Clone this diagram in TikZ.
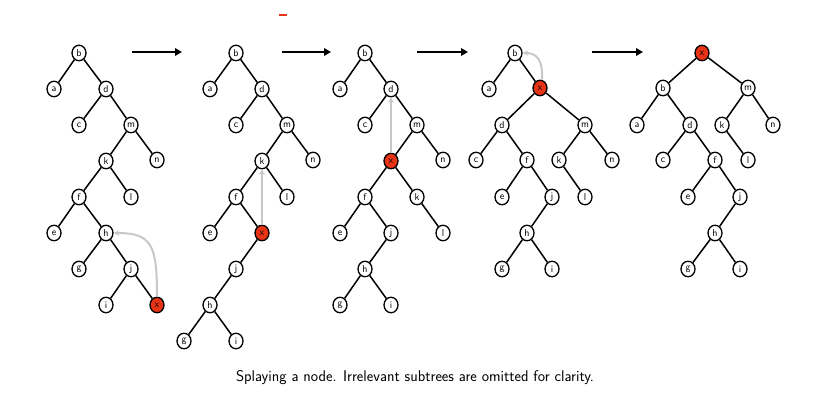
\documentclass[tikz,border=0pt]{standalone}
\usetikzlibrary{arrows.meta,shapes.geometric}
\definecolor{hot}{RGB}{232,52,22}
\definecolor{hint}{RGB}{200,200,200}
\begin{document}
\begin{tikzpicture}[x=1pt,y=-1pt,
  nd/.style={draw,line width=1.3pt,ellipse,fill=white,minimum width=14pt,minimum height=15.5pt,inner sep=0pt,font=\sffamily\fontsize{10}{11}\selectfont},
  hotnd/.style={nd,fill=hot},
  edge/.style={line width=1.5pt},
  hintarrow/.style={draw=hint,line width=2pt,-{Stealth[length=5.5pt,width=5.5pt]}},
  steparrow/.style={line width=2.8pt,-{Triangle[length=7pt,width=7.5pt]}}]
\useasboundingbox (0,0) rectangle (824,406);
% stray red mark
\fill[hot] (279,14) rectangle (287,16.5);
% ---------- tree 1
\node[nd] (t1b) at (79,53) {b};
\node[nd] (t1a) at (54,89) {a};
\node[nd] (t1d) at (106,89) {d};
\node[nd] (t1c) at (79,125) {c};
\node[nd] (t1m) at (131,125) {m};
\node[nd] (t1k) at (106,161) {k};
\node[nd] (t1n) at (157,160) {n};
\node[nd] (t1f) at (79,197) {f};
\node[nd] (t1l) at (131,197) {l};
\node[nd] (t1e) at (54,233) {e};
\node[nd] (t1h) at (106,233) {h};
\node[nd] (t1g) at (79,269) {g};
\node[nd] (t1j) at (131,269) {j};
\node[nd] (t1i) at (106,305) {i};
\node[hotnd] (t1x) at (157,305) {x};
\foreach \p/\c in {b/a,b/d,d/c,d/m,m/k,m/n,k/f,k/l,f/e,f/h,h/g,h/j,j/i,j/x}
  \draw[edge] (t1\p) -- (t1\c);
\draw[hintarrow] (t1x.north) .. controls (157,245) and (152,233) .. (t1h.east);
% ---------- tree 2
\node[nd] (t2b) at (236,53) {b};
\node[nd] (t2a) at (210,89) {a};
\node[nd] (t2d) at (262,89) {d};
\node[nd] (t2c) at (236,125) {c};
\node[nd] (t2m) at (287,125) {m};
\node[nd] (t2k) at (262,161) {k};
\node[nd] (t2n) at (313,160) {n};
\node[nd] (t2f) at (236,197) {f};
\node[nd] (t2l) at (287,197) {l};
\node[nd] (t2e) at (210,233) {e};
\node[hotnd] (t2x) at (262,233) {x};
\node[nd] (t2j) at (236,269) {j};
\node[nd] (t2h) at (210,305) {h};
\node[nd] (t2g) at (184,341) {g};
\node[nd] (t2i) at (236,341) {i};
\foreach \p/\c in {b/a,b/d,d/c,d/m,m/k,m/n,k/f,k/l,f/e,f/x,x/j,j/h,h/g,h/i}
  \draw[edge] (t2\p) -- (t2\c);
\draw[hintarrow] (t2x.north) -- (t2k.south);
% ---------- tree 3
\node[nd] (t3b) at (365,53) {b};
\node[nd] (t3a) at (340,89) {a};
\node[nd] (t3d) at (391,89) {d};
\node[nd] (t3c) at (365,125) {c};
\node[nd] (t3m) at (417,125) {m};
\node[hotnd] (t3x) at (391,161) {x};
\node[nd] (t3n) at (443,160) {n};
\node[nd] (t3f) at (365,197) {f};
\node[nd] (t3k) at (417,197) {k};
\node[nd] (t3e) at (340,233) {e};
\node[nd] (t3j) at (391,233) {j};
\node[nd] (t3l) at (443,233) {l};
\node[nd] (t3h) at (365,269) {h};
\node[nd] (t3g) at (340,305) {g};
\node[nd] (t3i) at (391,305) {i};
\foreach \p/\c in {b/a,b/d,d/c,d/m,m/x,m/n,x/f,x/k,f/e,f/j,j/h,h/g,h/i,k/l}
  \draw[edge] (t3\p) -- (t3\c);
\draw[hintarrow] (t3x.north) -- (t3d.south);
% ---------- tree 4
\node[nd] (t4b) at (515,53) {b};
\node[nd] (t4a) at (489,89) {a};
\node[hotnd] (t4x) at (540,88) {x};
\node[nd] (t4d) at (502,125) {d};
\node[nd] (t4m) at (585,125) {m};
\node[nd] (t4c) at (476,160) {c};
\node[nd] (t4f) at (527,160) {f};
\node[nd] (t4k) at (559,160) {k};
\node[nd] (t4n) at (612,160) {n};
\node[nd] (t4e) at (502,197) {e};
\node[nd] (t4j) at (552,197) {j};
\node[nd] (t4l) at (585,197) {l};
\node[nd] (t4h) at (527,233) {h};
\node[nd] (t4g) at (502,269) {g};
\node[nd] (t4i) at (552,269) {i};
\foreach \p/\c in {b/a,b/x,x/d,x/m,d/c,d/f,f/e,f/j,j/h,h/g,h/i,m/k,m/n,k/l}
  \draw[edge] (t4\p) -- (t4\c);
\draw[hintarrow] ([xshift=2pt]t4x.north) .. controls (543,62) and (538,53) .. (t4b.east);
% ---------- tree 5
\node[hotnd] (t5x) at (702,53) {x};
\node[nd] (t5b) at (663,88) {b};
\node[nd] (t5m) at (748,88) {m};
\node[nd] (t5a) at (637,125) {a};
\node[nd] (t5d) at (690,125) {d};
\node[nd] (t5k) at (722,125) {k};
\node[nd] (t5n) at (773,125) {n};
\node[nd] (t5c) at (663,160) {c};
\node[nd] (t5f) at (715,160) {f};
\node[nd] (t5l) at (748,160) {l};
\node[nd] (t5e) at (688,197) {e};
\node[nd] (t5j) at (740,197) {j};
\node[nd] (t5h) at (715,233) {h};
\node[nd] (t5g) at (688,269) {g};
\node[nd] (t5i) at (740,269) {i};
\foreach \p/\c in {x/b,x/m,b/a,b/d,d/c,d/f,f/e,f/j,j/h,h/g,h/i,m/k,m/n,k/l}
  \draw[edge] (t5\p) -- (t5\c);
% ---------- step arrows
\coordinate (s1a) at (132,52); \coordinate (s1b) at (182,52);
\coordinate (s2a) at (282,52); \coordinate (s2b) at (331,52);
\coordinate (s3a) at (417,52); \coordinate (s3b) at (468,52);
\coordinate (s4a) at (592,52); \coordinate (s4b) at (643,52);
\draw[steparrow] (s1a) -- (s1b);
\draw[steparrow] (s2a) -- (s2b);
\draw[steparrow] (s3a) -- (s3b);
\draw[steparrow] (s4a) -- (s4b);
% ---------- caption
\node[font=\sffamily\fontsize{15.5}{18}\selectfont] (cap) at (415,378) {Splaying a node. Irrelevant subtrees are omitted for clarity.};
\end{tikzpicture}
\end{document}
